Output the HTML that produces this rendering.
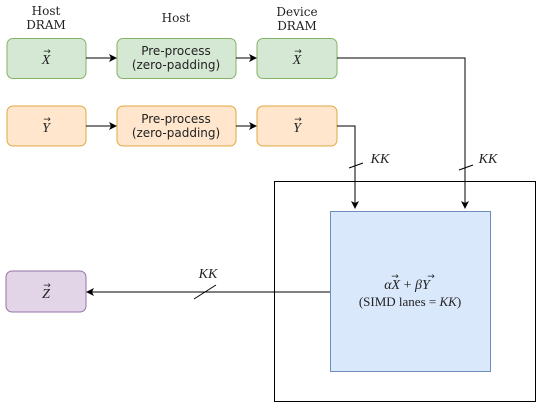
<!DOCTYPE html><html><head><style>body{margin:0;background:#fff}</style></head><body>
<svg width="537" height="403" xmlns="http://www.w3.org/2000/svg" font-family="Liberation Serif, DejaVu Serif, serif">
<defs><marker id="a" markerWidth="8" markerHeight="8" refX="7" refY="4" orient="auto" markerUnits="userSpaceOnUse"><path d="M0,0L8,4L0,8L2,4z" fill="#000"/></marker></defs>
<g font-family="DejaVu Serif, serif" font-size="12" fill="#222" text-anchor="middle">
<text x="46" y="15">Host</text><text x="46" y="29">DRAM</text>
<text x="176" y="22">Host</text>
<text x="297" y="16">Device</text><text x="297" y="30">DRAM</text>
</g>
<g stroke="#82b366" fill="#d5e8d4"><rect x="7" y="38.5" width="79" height="40" rx="6"/><rect x="117" y="38.5" width="119" height="40" rx="6"/><rect x="257" y="38.5" width="80" height="40" rx="6"/></g>
<g fill="#ffe6cc" style="stroke:#e0a840"><rect x="7" y="106" width="79" height="40" rx="6"/><rect x="117" y="106" width="119" height="40" rx="6"/><rect x="257" y="106" width="80" height="40" rx="6"/></g>
<rect x="6" y="271" width="80" height="41" rx="6" fill="#e1d5e7" stroke="#9673a6"/>
<rect x="274.5" y="181.5" width="261" height="220" fill="none" stroke="#000"/>
<rect x="330.5" y="211.5" width="160" height="160" fill="#dae8fc" stroke="#6c8ebf"/>
<g stroke="#000" fill="none">
<path d="M86,58H116" marker-end="url(#a)"/><path d="M236,58H256" marker-end="url(#a)"/>
<path d="M86,126H116" marker-end="url(#a)"/><path d="M236,126H256" marker-end="url(#a)"/>
<path d="M337,58H465V208" marker-end="url(#a)"/>
<path d="M337,126H355V208" marker-end="url(#a)"/>
<path d="M330,292H87" marker-end="url(#a)"/>
<path d="M349,168L363,163M459,170L473,165M194,299L216,285"/>
</g>
<g font-size="14" font-style="italic" text-anchor="middle" fill="#222">
<text x="46" y="64">X</text><text x="297" y="64">X</text>
<text x="46" y="132">Y</text><text x="297" y="132">Y</text>
<text x="46" y="298">Z</text>
<text x="380" y="163">KK</text><text x="488" y="163">KK</text><text x="208" y="278">KK</text>
</g>
<g font-size="9" text-anchor="middle" fill="#222" font-family="DejaVu Sans, sans-serif">
<text x="47" y="54">→</text><text x="298" y="54">→</text>
<text x="47" y="122">→</text><text x="298" y="122">→</text>
<text x="47" y="288">→</text>
<text x="395" y="279">→</text><text x="431" y="279">→</text>
</g>
<g font-family="DejaVu Sans, sans-serif" font-size="12" fill="#222" text-anchor="middle">
<text x="176" y="55">Pre-process</text><text x="176" y="69">(zero-padding)</text>
<text x="176" y="123">Pre-process</text><text x="176" y="137">(zero-padding)</text>
</g>
<text x="407" y="289" font-size="14" fill="#222" text-anchor="middle"><tspan font-style="italic">αX</tspan> + <tspan font-style="italic">βY</tspan></text>
<text x="410" y="306" font-size="13" fill="#222" text-anchor="middle">(SIMD lanes = <tspan font-style="italic">KK</tspan>)</text>
</svg></body></html>
